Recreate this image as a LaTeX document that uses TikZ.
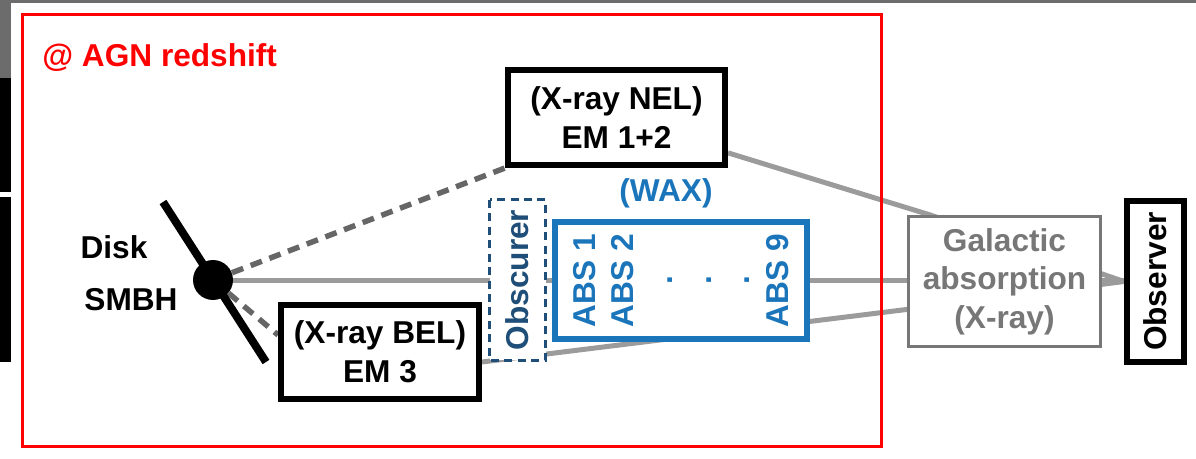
\documentclass[tikz,border=0pt]{standalone}
\usepackage{fontspec}
\setmainfont{Liberation Sans}
\usepackage{xcolor}
\usetikzlibrary{calc, backgrounds}
\definecolor{agnred}{HTML}{FF0000}
\definecolor{waxblue}{HTML}{1B75BB}
\definecolor{obsblue}{HTML}{1F4E79}
\definecolor{raygray}{HTML}{9B9B9B}
\definecolor{dashgray}{HTML}{666666}
\definecolor{galgray}{HTML}{777777}

\begin{document}
\begin{tikzpicture}[x=0.02cm, y=-0.02cm,
    every node/.style={font=\bfseries\fontsize{18}{22}\selectfont, align=center},
    embox/.style={draw=black, line width=0.12cm, fill=white, inner sep=0pt},
    ray/.style={draw=raygray, line width=0.1cm},
    dashray/.style={draw=dashgray, line width=0.11cm, dash pattern=on 0.24cm off 0.16cm}]
    \useasboundingbox (0,0) rectangle (1196,459);

    % --- AGN frame ---
    \draw[agnred, line width=0.06cm] (22.5,15) rectangle (881,446);
    \node[agnred, anchor=base west, inner sep=0pt] (title) at (42,67) {@ AGN redshift};

    % --- disk and black hole ---
    \coordinate (disktop) at (163,202);
    \coordinate (diskbot) at (266,362);
    \draw[line width=0.16cm] (disktop) -- (diskbot);
    \node[circle, fill=black, minimum size=0.8cm, inner sep=0pt] (smbh) at (213,280) {};
    \node (disk) at (114,247) {Disk};
    \node (smbhlabel) at (131,300) {SMBH};

    % --- emitters ---
    \node[embox, minimum width=4.34cm, minimum height=1.9cm] (nel) at (616.5,117.5) {(X-ray NEL)\\EM 1+2};
    \node[embox, minimum width=3.96cm, minimum height=1.88cm] (bel) at (380,352) {(X-ray BEL)\\EM 3};

    % --- absorbers (rotated: north anchor is on the left) ---
    \node[draw=obsblue, text=obsblue, line width=0.07cm, dash pattern=on 0.16cm off 0.11cm,
          fill=white, rotate=90, minimum width=3.22cm, minimum height=1.12cm, inner sep=0pt]
          (obscurer) at (517.5,280) {Obscurer};
    \node[draw=waxblue, text=waxblue, line width=0.12cm, fill=white, rotate=90,
          minimum width=2.34cm, minimum height=5.04cm, inner sep=0pt]
          (abs) at (681,280.5) {ABS 1\\ABS 2\\.\\.\\.\\ABS 9};
    \node[waxblue] (wax) at (666,193) {(WAX)};

    % --- outside the AGN ---
    \node[draw=galgray, text=galgray, line width=0.06cm, fill=white,
          minimum width=3.84cm, minimum height=2.6cm, inner sep=0pt]
          (galactic) at (1004.5,281.5) {Galactic\\absorption\\(X-ray)};
    \node[embox, rotate=90, minimum width=3.22cm, minimum height=1.14cm] (observer) at (1155.5,281.5) {Observer};

    \begin{pgfonlayer}{background}
        % screenshot edge
        \fill[gray!85!black] (0,0) rectangle (1196,3);
        \fill[gray!85!black] (0,0) rectangle (11,78);
        \fill[black] (0,78) rectangle (11,192);
        \fill[black] (0,197) rectangle (11,362);
        % rays towards the observer
        \draw[ray] (smbh.center) -- (smbh.center -| observer.north);
        \draw[ray] ($(nel.south east)!0.15!(nel.north east)$)
            -- ($(galactic.north west)!0.12!(galactic.north east)$) -- (observer.north);
        \draw[ray] ($(bel.south east)!0.4!(bel.north east)$)
            -- ($(galactic.south west)!0.29!(galactic.north west)$) -- (observer.north);
        \draw[dashray] (smbh) -- (nel.south west);
        \draw[dashray] (smbh) -- ($(bel.north west)!0.33!(bel.south west)$);
    \end{pgfonlayer}
\end{tikzpicture}
\end{document}
